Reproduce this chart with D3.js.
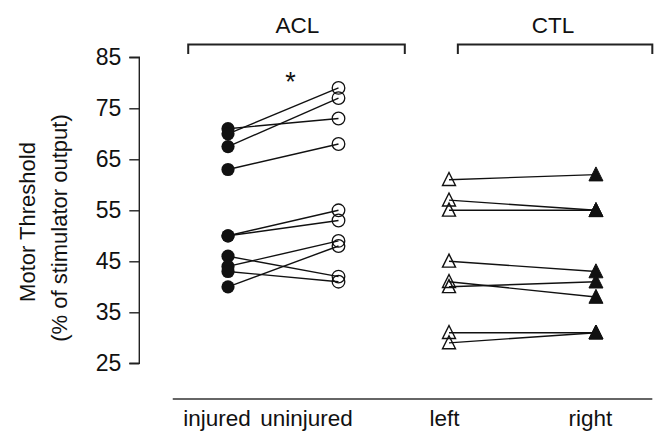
<!DOCTYPE html>
<html>
<head>
<meta charset="utf-8">
<script src="https://cdn.jsdelivr.net/npm/d3@7"></script>
<style>
  html, body { margin: 0; padding: 0; background: #fff; }
  svg { display: block; font-family: "Liberation Sans", Arial, Helvetica, sans-serif; }
</style>
</head>
<body>
<svg id="chart" width="655" height="432"></svg>
<script>
// ---- data ----
const categories = ["injured", "uninjured", "left", "right"];
const categoryPos = [1, 2, 3, 4.33];          // x positions of the point columns
const labelPos = [0.9, 1.71, 2.96, 4.28];      // x positions of the category labels
const yTicks = [25, 35, 45, 55, 65, 75, 85];

// ACL group: injured (filled circle) -> uninjured (open circle)
const aclInjured   = [71, 70, 67.5, 63, 50, 50, 46, 44, 43, 40];
const aclUninjured = [73, 79, 77,   68, 55, 53, 42, 49, 41, 48];
// CTL group: left (open triangle) -> right (filled triangle)
const ctlLeft  = [61, 57, 55, 45, 41, 40, 31, 29];
const ctlRight = [62, 55, 55, 43, 38, 41, 31, 31];

const groups = [
  { name: "ACL", from: 0.64, to: 2.6 },
  { name: "CTL", from: 3.08, to: 4.84 }
];

// ---- scales ----
const svg = d3.select("#chart");
const x = d3.scaleLinear().domain([1, 2]).range([228, 338.5]);
const y = d3.scaleLinear().domain([25, 85]).range([363.3, 57.3]);
const ink = "#111";

// y axis
const yAxis = d3.axisLeft(y).tickValues(yTicks).tickSize(10).tickPadding(8);
const gy = svg.append("g").attr("transform", "translate(139.3,0)").call(yAxis);
gy.select(".domain").attr("stroke", "#222").attr("stroke-width", 1.4).attr("d", `M-10,${y(85)}H0V${y(25)}H-10`);
gy.selectAll(".tick line").attr("stroke", "#222").attr("stroke-width", 1.4);
gy.selectAll(".tick text").attr("font-size", 23).attr("fill", "#111")
  .attr("font-family", "Liberation Sans, Arial, sans-serif");

// y title
svg.append("text").attr("transform", "translate(35,222) rotate(-90)")
  .attr("text-anchor", "middle").attr("font-size", 22).attr("fill", "#111")
  .text("Motor Threshold");
svg.append("text").attr("transform", "translate(67,228) rotate(-90)")
  .attr("text-anchor", "middle").attr("font-size", 22).attr("fill", "#111")
  .text("(% of stimulator output)");

// x axis line
svg.append("line").attr("x1", x(0.5)).attr("x2", x(4.84))
  .attr("y1", 399).attr("y2", 399).attr("stroke", "#333").attr("stroke-width", 1.6);

// category labels
svg.selectAll("text.cat").data(categories).join("text").attr("class", "cat")
  .attr("x", (d, i) => x(labelPos[i])).attr("y", 425.5)
  .attr("text-anchor", "middle").attr("font-size", 22.5).attr("fill", "#111")
  .text(d => d);

// group brackets
groups.forEach(g => {
  svg.append("path")
    .attr("d", `M${x(g.from)},54V44.5H${x(g.to)}V54`)
    .attr("fill", "none").attr("stroke", "#222").attr("stroke-width", 2);
  svg.append("text").attr("x", (x(g.from) + x(g.to)) / 2 + (g.name === "ACL" ? 1 : -2)).attr("y", 33)
    .attr("text-anchor", "middle").attr("font-size", 22.5).attr("fill", "#111").text(g.name);
});

// asterisk
svg.append("text").attr("x", x(1.565)).attr("y", 91).attr("text-anchor", "middle")
  .attr("font-size", 27).attr("fill", "#111").text("*");

// ---- ACL pairs ----
const acl = aclInjured.map((v, i) => ({ a: v, b: aclUninjured[i] }));
svg.append("g").selectAll("line").data(acl).join("line")
  .attr("x1", x(categoryPos[0])).attr("x2", x(categoryPos[1]))
  .attr("y1", d => y(d.a)).attr("y2", d => y(d.b))
  .attr("stroke", ink).attr("stroke-width", 1.4);
svg.append("g").selectAll("circle").data(acl).join("circle")
  .attr("cx", x(categoryPos[0])).attr("cy", d => y(d.a)).attr("r", 6.6)
  .attr("fill", ink);
svg.append("g").selectAll("circle").data(acl).join("circle")
  .attr("cx", x(categoryPos[1])).attr("cy", d => y(d.b)).attr("r", 6.3)
  .attr("fill", "none").attr("stroke", ink).attr("stroke-width", 1.3);

// ---- CTL pairs ----
const ctl = ctlLeft.map((v, i) => ({ a: v, b: ctlRight[i] }));
svg.append("g").selectAll("line").data(ctl).join("line")
  .attr("x1", x(categoryPos[2])).attr("x2", x(categoryPos[3]))
  .attr("y1", d => y(d.a)).attr("y2", d => y(d.b))
  .attr("stroke", ink).attr("stroke-width", 1.4);
const tri = (cx, cy, s) => `M${cx},${cy - s * 0.55}L${cx + s / 2},${cy + s * 0.45}L${cx - s / 2},${cy + s * 0.45}Z`;
svg.append("g").selectAll("path").data(ctl).join("path")
  .attr("d", d => tri(x(categoryPos[2]), y(d.a), 13))
  .attr("fill", "none").attr("stroke", ink).attr("stroke-width", 1.4);
svg.append("g").selectAll("path").data(ctl).join("path")
  .attr("d", d => tri(x(categoryPos[3]), y(d.b), 14))
  .attr("fill", ink).attr("stroke", ink).attr("stroke-width", 1);
</script>
</body>
</html>
